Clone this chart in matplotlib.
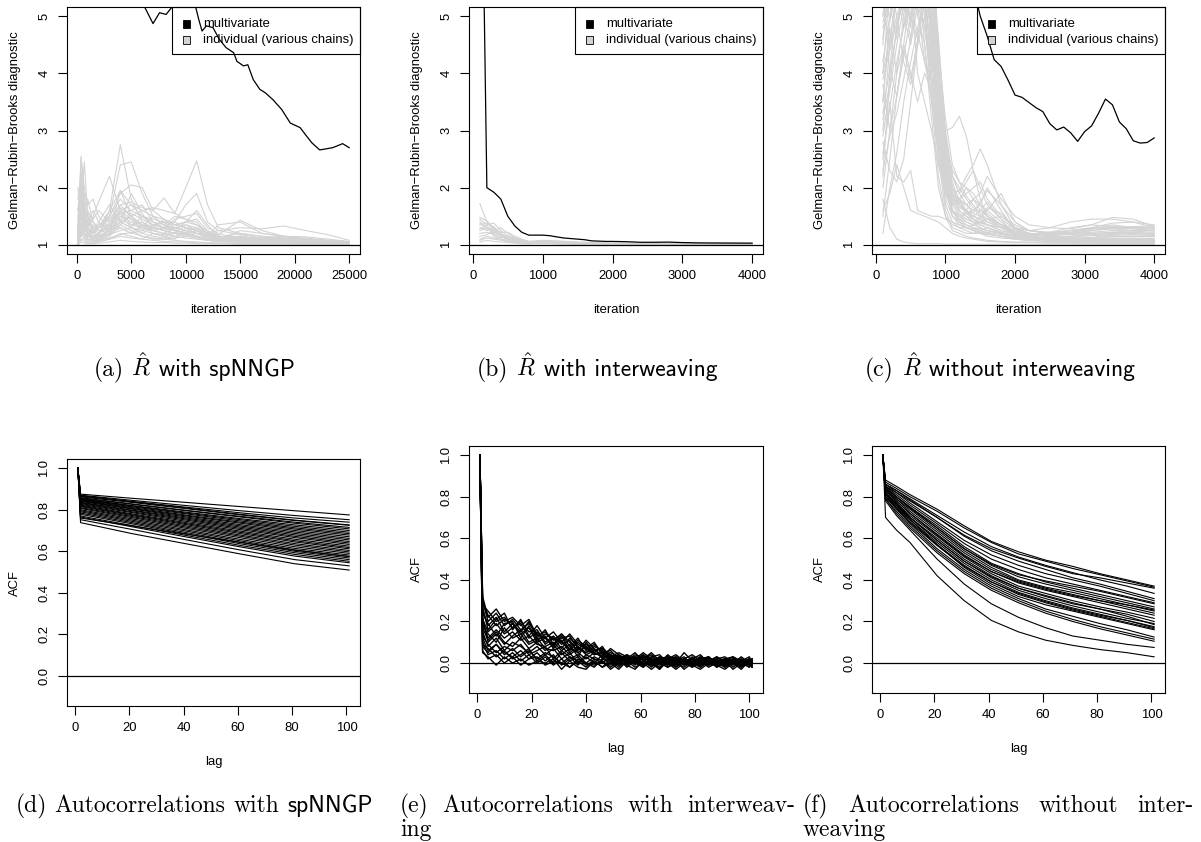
import matplotlib
matplotlib.use("Agg")
import matplotlib.pyplot as plt
from matplotlib.patches import Rectangle

plt.rcParams['font.family'] = ['Liberation Sans', 'DejaVu Sans']
plt.rcParams['mathtext.fontset'] = 'cm'

W, H = 1201, 842
GRAY = '#D3D3D3'
FS = 9.4

# ---------------- (a) R-hat with spNNGP ----------------
iter_a = [100, 400, 700, 1000, 1500, 2000, 3000, 4000, 5000, 6000, 7000, 8000,
          9000, 10000, 11000, 12000, 13000, 15000, 17000, 19000, 21000, 23000, 25000]
rhat_a = [
    [1.30, 1.90, 1.50, 1.20, 1.10, 1.15, 1.60, 2.75, 1.80, 1.40, 1.25, 1.20, 1.15, 1.12, 1.10, 1.08, 1.06, 1.05, 1.04, 1.03, 1.03, 1.02, 1.02],
    [1.10, 1.40, 1.30, 1.20, 1.15, 1.20, 1.50, 2.40, 2.45, 1.90, 1.50, 1.35, 1.30, 1.25, 1.20, 1.15, 1.12, 1.10, 1.08, 1.06, 1.05, 1.04, 1.03],
    [1.20, 1.60, 1.40, 1.30, 1.50, 1.75, 2.20, 1.60, 1.45, 1.35, 1.30, 1.25, 1.20, 1.18, 1.15, 1.12, 1.10, 1.08, 1.07, 1.06, 1.05, 1.04, 1.03],
    [1.05, 1.30, 1.20, 1.10, 1.10, 1.15, 1.25, 1.40, 1.50, 1.60, 1.65, 1.60, 1.55, 2.00, 2.47, 1.70, 1.30, 1.20, 1.15, 1.12, 1.10, 1.06, 1.04],
    [1.10, 1.50, 1.30, 1.20, 1.15, 1.20, 1.30, 1.55, 1.60, 1.50, 1.45, 1.40, 1.40, 1.70, 1.90, 1.40, 1.25, 1.18, 1.12, 1.10, 1.08, 1.05, 1.03],
    [1.20, 1.80, 1.40, 1.25, 1.20, 1.30, 1.45, 1.70, 1.75, 1.65, 1.60, 1.82, 1.55, 1.45, 1.35, 1.20, 1.15, 1.12, 1.10, 1.08, 1.06, 1.05, 1.04],
    [1.15, 2.30, 1.60, 1.40, 1.30, 1.35, 1.50, 1.90, 2.05, 2.00, 1.60, 1.45, 1.35, 1.30, 1.28, 1.22, 1.18, 1.43, 1.25, 1.15, 1.10, 1.06, 1.04],
    [1.05, 2.55, 1.80, 1.30, 1.20, 1.15, 1.25, 1.50, 1.40, 1.30, 1.25, 1.20, 1.30, 1.35, 1.30, 1.20, 1.25, 1.30, 1.28, 1.33, 1.25, 1.18, 1.08],
    [1.40, 2.50, 2.00, 1.60, 1.40, 1.30, 1.35, 1.45, 1.35, 1.30, 1.25, 1.30, 1.30, 1.25, 1.20, 1.15, 1.35, 1.40, 1.20, 1.15, 1.12, 1.08, 1.05],
    [1.00, 1.20, 1.10, 1.05, 1.05, 1.08, 1.15, 1.35, 1.25, 1.15, 1.10, 1.10, 1.08, 1.06, 1.05, 1.04, 1.03, 1.03, 1.02, 1.02, 1.02, 1.01, 1.01],
    [1.60, 2.00, 1.70, 1.80, 1.40, 1.25, 1.30, 1.60, 1.70, 1.50, 1.40, 1.30, 1.25, 1.20, 1.15, 1.10, 1.08, 1.07, 1.06, 1.05, 1.04, 1.03, 1.02],
    [1.02, 1.10, 1.06, 1.04, 1.03, 1.05, 1.10, 1.20, 1.15, 1.10, 1.20, 1.15, 1.10, 1.30, 1.25, 1.15, 1.10, 1.08, 1.06, 1.05, 1.04, 1.03, 1.02],
    [1.10, 1.70, 1.30, 1.15, 1.10, 1.12, 1.20, 1.30, 1.20, 1.25, 1.35, 1.30, 1.45, 1.50, 1.55, 1.30, 1.20, 1.10, 1.08, 1.06, 1.05, 1.04, 1.03],
    [1.05, 1.40, 1.20, 1.10, 1.08, 1.06, 1.10, 1.15, 1.12, 1.10, 1.08, 1.06, 1.05, 1.05, 1.04, 1.03, 1.03, 1.02, 1.02, 1.02, 1.01, 1.01, 1.01],
    [1.20, 1.95, 1.50, 1.30, 1.15, 1.10, 1.20, 1.95, 1.50, 1.35, 1.30, 1.28, 1.25, 1.22, 1.20, 1.18, 1.15, 1.13, 1.12, 1.10, 1.08, 1.06, 1.05],
    [1.00, 1.05, 1.03, 1.02, 1.02, 1.03, 1.05, 1.08, 1.06, 1.05, 1.04, 1.04, 1.03, 1.03, 1.02, 1.02, 1.02, 1.01, 1.01, 1.01, 1.01, 1.01, 1.00],
    [1.50, 1.60, 1.75, 1.40, 1.60, 1.40, 1.25, 1.35, 1.55, 1.45, 1.35, 1.40, 1.35, 1.40, 1.35, 1.25, 1.15, 1.12, 1.10, 1.08, 1.07, 1.05, 1.03],
    [1.03, 1.25, 1.15, 1.10, 1.08, 1.10, 1.18, 1.25, 1.30, 1.20, 1.15, 1.12, 1.15, 1.20, 1.15, 1.10, 1.08, 1.10, 1.12, 1.15, 1.14, 1.10, 1.06],
    [1.80, 2.20, 1.60, 1.50, 1.30, 1.20, 1.40, 1.70, 1.50, 1.35, 1.25, 1.30, 1.25, 1.20, 1.15, 1.10, 1.08, 1.06, 1.05, 1.04, 1.03, 1.03, 1.02],
    [1.25, 1.70, 2.45, 1.50, 1.25, 1.30, 1.50, 1.80, 1.60, 1.70, 1.40, 1.35, 1.50, 1.45, 1.40, 1.20, 1.12, 1.10, 1.08, 1.07, 1.05, 1.04, 1.03],
    [2.00, 1.50, 1.90, 1.70, 1.80, 1.50, 1.30, 1.40, 1.30, 1.20, 1.30, 1.25, 1.20, 1.35, 1.25, 1.12, 1.10, 1.08, 1.06, 1.05, 1.04, 1.03, 1.03],
    [1.10, 1.35, 1.25, 1.40, 1.20, 1.30, 1.60, 1.95, 1.70, 1.60, 1.50, 1.45, 1.35, 1.40, 1.45, 1.25, 1.15, 1.10, 1.08, 1.06, 1.05, 1.04, 1.03],
    [1.35, 1.55, 1.20, 1.15, 1.35, 1.25, 1.20, 1.50, 1.45, 1.25, 1.20, 1.15, 1.20, 1.15, 1.20, 1.12, 1.08, 1.15, 1.10, 1.08, 1.05, 1.04, 1.02],
    [1.05, 1.15, 1.30, 1.20, 1.15, 1.10, 1.30, 1.60, 1.35, 1.40, 1.30, 1.45, 1.30, 1.25, 1.30, 1.18, 1.12, 1.20, 1.15, 1.12, 1.10, 1.08, 1.05],
    [1.60, 2.10, 1.40, 1.30, 1.20, 1.40, 1.70, 1.40, 1.90, 1.55, 1.30, 1.25, 1.20, 1.18, 1.12, 1.08, 1.06, 1.05, 1.04, 1.03, 1.03, 1.02, 1.02],
    [1.15, 1.45, 1.70, 1.25, 1.10, 1.20, 1.35, 1.65, 1.50, 1.30, 1.50, 1.35, 1.25, 1.40, 1.60, 1.35, 1.15, 1.12, 1.10, 1.08, 1.06, 1.05, 1.04],
    [1.02, 1.08, 1.12, 1.08, 1.06, 1.08, 1.12, 1.18, 1.22, 1.15, 1.12, 1.10, 1.12, 1.15, 1.12, 1.08, 1.06, 1.05, 1.05, 1.04, 1.03, 1.03, 1.02],
    [1.45, 1.80, 1.30, 1.60, 1.25, 1.15, 1.20, 1.40, 1.30, 1.25, 1.35, 1.40, 1.25, 1.20, 1.25, 1.15, 1.10, 1.25, 1.20, 1.15, 1.10, 1.07, 1.05],
    [1.20, 1.30, 1.50, 1.35, 1.45, 1.60, 1.40, 1.55, 1.30, 1.50, 1.35, 1.30, 1.40, 1.30, 1.20, 1.15, 1.10, 1.08, 1.07, 1.06, 1.05, 1.04, 1.03],
    [1.08, 1.20, 1.35, 1.15, 1.12, 1.15, 1.25, 1.30, 1.20, 1.35, 1.20, 1.18, 1.22, 1.18, 1.25, 1.20, 1.12, 1.15, 1.10, 1.10, 1.08, 1.06, 1.04],
]
mv_a_iter = [100, 2000, 4000, 6200, 7000, 7600, 8200, 8700, 9500, 10300, 10900, 11200,
             11500, 11900, 12500, 13100, 13700, 14400, 14700, 15300, 15700, 16200, 16800,
             17300, 18000, 18800, 19600, 20500, 21100, 21600, 22300, 23500, 24400, 25000]
mv_a = [14.0, 8.5, 6.2, 5.17, 4.87, 5.06, 5.03, 5.15, 5.40, 5.30, 5.17, 4.94,
        4.74, 4.83, 4.80, 4.59, 4.45, 4.36, 4.21, 4.13, 4.15, 3.89, 3.72,
        3.66, 3.54, 3.37, 3.13, 3.05, 2.90, 2.78, 2.66, 2.70, 2.77, 2.70]

# ---------------- (b) R-hat with interweaving ----------------
iter_b = [100, 200, 300, 400, 500, 600, 700, 800, 1000, 1200, 1500, 2000, 2500, 3000, 3500, 4000]
rhat_b = [
    [1.72, 1.40, 1.25, 1.15, 1.08, 1.05, 1.04, 1.03, 1.04, 1.03, 1.02, 1.02, 1.01, 1.01, 1.01, 1.01],
    [1.48, 1.42, 1.30, 1.20, 1.12, 1.08, 1.06, 1.04, 1.06, 1.05, 1.03, 1.02, 1.02, 1.02, 1.01, 1.01],
    [1.45, 1.35, 1.38, 1.25, 1.15, 1.10, 1.07, 1.05, 1.07, 1.06, 1.04, 1.03, 1.02, 1.02, 1.02, 1.02],
    [1.40, 1.30, 1.25, 1.30, 1.20, 1.12, 1.08, 1.05, 1.05, 1.04, 1.03, 1.02, 1.02, 1.01, 1.01, 1.01],
    [1.35, 1.38, 1.28, 1.22, 1.22, 1.15, 1.10, 1.06, 1.06, 1.05, 1.03, 1.02, 1.02, 1.02, 1.01, 1.01],
    [1.30, 1.25, 1.32, 1.18, 1.10, 1.06, 1.04, 1.03, 1.03, 1.03, 1.02, 1.01, 1.01, 1.01, 1.01, 1.01],
    [1.25, 1.30, 1.20, 1.15, 1.12, 1.08, 1.05, 1.03, 1.04, 1.03, 1.02, 1.02, 1.01, 1.01, 1.01, 1.01],
    [1.20, 1.22, 1.18, 1.12, 1.16, 1.10, 1.06, 1.04, 1.05, 1.04, 1.03, 1.02, 1.02, 1.01, 1.01, 1.01],
    [1.15, 1.18, 1.25, 1.20, 1.10, 1.07, 1.05, 1.03, 1.03, 1.02, 1.02, 1.01, 1.01, 1.01, 1.01, 1.00],
    [1.10, 1.15, 1.12, 1.10, 1.08, 1.10, 1.08, 1.04, 1.05, 1.04, 1.03, 1.02, 1.02, 1.02, 1.01, 1.01],
    [1.08, 1.12, 1.10, 1.08, 1.05, 1.04, 1.03, 1.02, 1.03, 1.02, 1.02, 1.01, 1.01, 1.01, 1.01, 1.01],
    [1.05, 1.08, 1.06, 1.05, 1.04, 1.03, 1.02, 1.02, 1.02, 1.02, 1.01, 1.01, 1.01, 1.01, 1.01, 1.00],
    [1.38, 1.28, 1.22, 1.18, 1.14, 1.12, 1.09, 1.06, 1.08, 1.07, 1.05, 1.03, 1.03, 1.02, 1.02, 1.02],
    [1.28, 1.35, 1.15, 1.10, 1.06, 1.04, 1.03, 1.02, 1.04, 1.03, 1.02, 1.02, 1.01, 1.01, 1.01, 1.01],
]
mv_b_iter = [100, 200, 300, 400, 500, 600, 700, 800, 900, 1000, 1100, 1200, 1300, 1400, 1500,
             1600, 1700, 1800, 1900, 2000, 2200, 2400, 2600, 2800, 3000, 3200, 3400, 3600, 3800, 4000]
mv_b = [10.3, 2.00, 1.92, 1.80, 1.50, 1.33, 1.22, 1.17, 1.17, 1.17, 1.16, 1.14, 1.12, 1.11, 1.10,
        1.09, 1.07, 1.065, 1.06, 1.06, 1.055, 1.045, 1.045, 1.048, 1.04, 1.035, 1.033, 1.032, 1.031, 1.03]

# ---------------- (c) R-hat without interweaving ----------------
iter_c = [100, 200, 300, 400, 500, 600, 700, 800, 900, 1000, 1100, 1200, 1300, 1400, 1500,
          1600, 1800, 2000, 2200, 2500, 2800, 3100, 3400, 3700, 4000]
rhat_c = [
    [5.5, 6.5, 6.0, 6.8, 6.2, 5.8, 6.5, 4.5, 2.8, 1.9, 1.6, 1.45, 1.35, 1.30, 1.25, 1.22, 1.18, 1.15, 1.14, 1.12, 1.12, 1.10, 1.10, 1.09, 1.08],
    [4.5, 5.8, 6.2, 5.5, 6.0, 6.5, 5.5, 4.0, 3.0, 2.2, 1.8, 1.6, 1.5, 1.45, 1.40, 1.35, 1.25, 1.20, 1.18, 1.15, 1.14, 1.13, 1.12, 1.12, 1.11],
    [3.0, 4.5, 5.5, 5.0, 4.5, 5.2, 4.8, 3.8, 2.6, 1.8, 1.5, 1.4, 1.30, 1.28, 1.25, 1.20, 1.15, 1.12, 1.10, 1.10, 1.09, 1.08, 1.08, 1.07, 1.06],
    [1.2, 2.0, 2.6, 3.5, 4.2, 4.8, 5.3, 4.8, 3.5, 2.5, 1.8, 1.7, 1.6, 1.5, 1.45, 1.35, 1.25, 1.18, 1.16, 1.20, 1.25, 1.28, 1.30, 1.32, 1.33],
    [2.5, 3.5, 2.2, 2.1, 2.3, 1.6, 1.55, 1.5, 1.5, 1.45, 1.4, 1.35, 1.30, 1.25, 1.22, 1.2, 1.15, 1.12, 1.10, 1.08, 1.07, 1.06, 1.06, 1.05, 1.05],
    [1.8, 1.3, 1.1, 1.05, 1.03, 1.02, 1.02, 1.02, 1.02, 1.01, 1.01, 1.01, 1.01, 1.01, 1.01, 1.01, 1.01, 1.01, 1.01, 1.01, 1.01, 1.01, 1.01, 1.01, 1.01],
    [6.0, 5.5, 6.8, 7.0, 6.5, 5.9, 5.4, 4.2, 3.5, 3.0, 3.05, 3.25, 2.9, 2.3, 1.8, 1.5, 1.35, 1.25, 1.20, 1.18, 1.20, 1.22, 1.25, 1.24, 1.22],
    [5.0, 6.0, 5.5, 6.2, 7.0, 6.0, 5.0, 3.5, 2.5, 2.0, 1.9, 1.95, 2.2, 2.4, 2.68, 2.4, 1.7, 1.3, 1.25, 1.30, 1.40, 1.45, 1.45, 1.40, 1.35],
    [4.0, 5.5, 6.5, 6.0, 5.0, 5.5, 5.8, 4.8, 3.2, 2.1, 1.7, 1.8, 1.9, 2.0, 2.1, 1.8, 1.5, 1.3, 1.2, 1.15, 1.20, 1.25, 1.28, 1.30, 1.30],
    [2.0, 3.0, 4.0, 5.0, 5.8, 6.0, 5.2, 3.8, 2.8, 2.3, 1.85, 1.7, 1.55, 1.5, 1.6, 1.75, 1.45, 1.15, 1.12, 1.10, 1.10, 1.12, 1.15, 1.15, 1.14],
    [3.5, 4.8, 4.0, 4.5, 5.5, 6.5, 6.0, 5.0, 3.0, 1.7, 1.4, 1.3, 1.25, 1.2, 1.2, 1.15, 1.12, 1.10, 1.08, 1.07, 1.06, 1.05, 1.05, 1.04, 1.04],
    [5.2, 4.5, 5.0, 4.2, 3.8, 4.5, 5.0, 4.0, 2.5, 1.6, 1.3, 1.25, 1.2, 1.2, 1.25, 1.3, 1.2, 1.1, 1.08, 1.06, 1.05, 1.05, 1.04, 1.04, 1.03],
    [2.8, 2.3, 2.1, 2.5, 3.5, 4.5, 5.5, 6.5, 4.5, 2.8, 2.0, 1.8, 1.6, 1.5, 1.45, 1.6, 1.9, 1.4, 1.25, 1.20, 1.25, 1.30, 1.38, 1.40, 1.30],
    [4.8, 5.2, 4.6, 5.8, 6.0, 5.0, 4.5, 3.5, 2.2, 1.5, 1.25, 1.2, 1.15, 1.12, 1.1, 1.08, 1.06, 1.05, 1.05, 1.04, 1.04, 1.03, 1.03, 1.03, 1.02],
    [3.8, 3.0, 3.6, 4.5, 4.0, 3.5, 4.0, 3.7, 3.0, 2.2, 1.5, 1.4, 1.6, 1.8, 1.7, 2.0, 1.6, 1.25, 1.2, 1.15, 1.12, 1.10, 1.10, 1.10, 1.10],
    [6.5, 7.0, 6.0, 6.5, 7.5, 7.0, 6.5, 5.0, 3.8, 2.6, 1.9, 1.75, 1.7, 1.8, 1.9, 2.2, 1.8, 1.5, 1.35, 1.30, 1.28, 1.35, 1.48, 1.45, 1.32],
    [2.2, 4.0, 5.5, 6.5, 5.5, 4.0, 3.5, 3.0, 2.4, 1.9, 1.6, 1.5, 1.4, 1.35, 1.3, 1.25, 1.2, 1.15, 1.15, 1.18, 1.20, 1.18, 1.16, 1.15, 1.15],
    [5.8, 6.2, 7.0, 5.5, 4.8, 6.0, 4.5, 3.2, 2.0, 1.5, 1.35, 1.3, 1.3, 1.35, 1.4, 1.35, 1.3, 1.2, 1.18, 1.22, 1.30, 1.35, 1.32, 1.28, 1.25],
    [1.6, 1.9, 2.4, 2.0, 1.6, 1.55, 1.5, 1.45, 1.4, 1.3, 1.2, 1.15, 1.12, 1.1, 1.08, 1.06, 1.05, 1.04, 1.04, 1.03, 1.03, 1.03, 1.02, 1.02, 1.02],
    [4.2, 5.0, 5.8, 6.2, 5.5, 5.0, 6.2, 5.5, 4.0, 2.9, 2.2, 1.9, 1.7, 1.55, 1.5, 1.45, 1.35, 1.3, 1.25, 1.22, 1.25, 1.30, 1.28, 1.25, 1.25],
    [3.2, 3.8, 4.8, 5.6, 6.0, 5.2, 4.2, 3.9, 3.6, 2.8, 2.3, 2.1, 2.0, 1.8, 1.6, 1.55, 1.35, 1.2, 1.15, 1.12, 1.10, 1.08, 1.08, 1.07, 1.06],
    [5.5, 4.0, 4.8, 5.3, 4.6, 5.6, 6.5, 5.8, 3.5, 2.0, 1.6, 1.4, 1.35, 1.3, 1.28, 1.25, 1.2, 1.15, 1.12, 1.10, 1.10, 1.12, 1.20, 1.22, 1.20],
    [6.0, 5.2, 5.8, 6.5, 6.0, 6.8, 7.0, 6.0, 4.2, 2.6, 1.9, 1.6, 1.5, 1.4, 1.35, 1.3, 1.22, 1.15, 1.12, 1.10, 1.10, 1.12, 1.15, 1.15, 1.16],
    [4.0, 4.6, 5.4, 4.8, 5.6, 5.2, 5.8, 5.2, 3.8, 2.4, 1.7, 1.5, 1.55, 1.6, 1.7, 1.6, 1.4, 1.2, 1.15, 1.12, 1.15, 1.20, 1.22, 1.20, 1.18],
    [3.5, 5.0, 5.8, 6.6, 7.0, 6.4, 6.0, 4.6, 3.0, 2.0, 1.7, 1.8, 2.0, 1.9, 1.7, 1.5, 1.3, 1.18, 1.12, 1.10, 1.08, 1.07, 1.06, 1.05, 1.05],
    [5.0, 5.6, 5.0, 5.4, 4.9, 5.5, 5.9, 4.4, 2.9, 2.1, 1.6, 1.45, 1.4, 1.35, 1.5, 1.65, 1.55, 1.3, 1.2, 1.18, 1.22, 1.28, 1.32, 1.30, 1.28],
    [2.6, 3.4, 4.2, 4.8, 5.4, 5.8, 6.5, 5.8, 4.6, 3.0, 2.2, 2.0, 1.8, 1.65, 1.5, 1.4, 1.3, 1.22, 1.18, 1.15, 1.12, 1.10, 1.08, 1.08, 1.07],
    [6.5, 6.0, 6.5, 7.2, 6.6, 6.2, 6.0, 5.2, 3.4, 2.2, 1.6, 1.4, 1.3, 1.25, 1.2, 1.18, 1.15, 1.12, 1.1, 1.08, 1.08, 1.07, 1.06, 1.06, 1.05],
    [3.9, 4.4, 4.9, 5.3, 5.0, 4.6, 5.6, 4.9, 3.6, 2.6, 2.0, 1.7, 1.55, 1.45, 1.4, 1.45, 1.5, 1.35, 1.25, 1.2, 1.18, 1.2, 1.22, 1.25, 1.26],
    [5.4, 6.4, 7.0, 6.0, 5.2, 4.7, 4.2, 3.6, 2.7, 2.0, 1.6, 1.5, 1.45, 1.4, 1.3, 1.25, 1.2, 1.15, 1.12, 1.1, 1.1, 1.1, 1.1, 1.1, 1.1],
    [2.3, 2.9, 3.3, 3.9, 4.6, 5.4, 5.9, 4.9, 3.3, 2.3, 1.8, 1.65, 1.6, 1.55, 1.75, 1.95, 1.7, 1.4, 1.25, 1.2, 1.22, 1.28, 1.35, 1.30, 1.28],
    [4.6, 5.8, 6.2, 5.6, 6.4, 7.0, 6.2, 5.5, 4.4, 3.2, 2.4, 2.1, 1.85, 1.7, 1.55, 1.45, 1.3, 1.2, 1.15, 1.12, 1.1, 1.1, 1.08, 1.07, 1.07],
    [1.5, 2.5, 3.6, 4.4, 3.9, 4.6, 5.2, 4.4, 3.0, 2.0, 1.5, 1.35, 1.3, 1.25, 1.22, 1.2, 1.15, 1.1, 1.08, 1.06, 1.06, 1.05, 1.05, 1.05, 1.04],
    [5.8, 4.9, 5.5, 6.0, 5.4, 6.0, 5.4, 4.3, 3.1, 2.4, 2.0, 1.8, 1.7, 1.6, 1.6, 1.5, 1.35, 1.25, 1.2, 1.18, 1.2, 1.25, 1.3, 1.28, 1.24],
    [3.3, 4.1, 3.6, 4.3, 5.0, 5.7, 6.3, 5.0, 3.9, 2.8, 2.2, 1.9, 2.1, 2.3, 2.0, 1.7, 1.45, 1.28, 1.2, 1.15, 1.12, 1.1, 1.1, 1.1, 1.08],
    [4.9, 5.3, 6.0, 5.1, 5.7, 6.3, 5.7, 4.7, 3.3, 2.3, 1.75, 1.55, 1.45, 1.4, 1.38, 1.35, 1.3, 1.22, 1.18, 1.15, 1.14, 1.16, 1.18, 1.2, 1.2],
    [2.9, 3.7, 4.5, 5.2, 6.0, 5.4, 4.8, 4.2, 3.4, 2.6, 2.1, 1.75, 1.6, 1.45, 1.35, 1.3, 1.22, 1.16, 1.12, 1.1, 1.08, 1.06, 1.06, 1.05, 1.05],
    [6.2, 6.8, 5.9, 5.4, 6.0, 5.5, 6.4, 5.8, 4.1, 2.7, 1.9, 1.7, 1.6, 1.5, 1.45, 1.4, 1.32, 1.25, 1.2, 1.16, 1.15, 1.18, 1.2, 1.18, 1.16],
]
mv_c_iter = list(range(100, 4001, 100))
mv_c = [20, 18, 16, 15, 14, 13, 12, 11, 10, 9, 8, 7, 6.2, 5.5,
        5.0, 4.65, 4.24, 4.12, 3.88, 3.62, 3.58, 3.49, 3.40, 3.33, 3.12, 3.01, 3.06, 2.96,
        2.81, 2.98, 3.08, 3.30, 3.55, 3.45, 3.15, 3.03, 2.82, 2.78, 2.79, 2.87]

# ---------------- (d) ACF with spNNGP ----------------
lag_d = [1, 2, 21, 41, 61, 81, 101]
acf_d = [
    [1, 0.875, 0.855, 0.835, 0.815, 0.795, 0.775],
    [1, 0.870, 0.845, 0.820, 0.795, 0.772, 0.752],
    [1, 0.868, 0.838, 0.808, 0.778, 0.750, 0.727],
    [1, 0.865, 0.840, 0.812, 0.785, 0.760, 0.740],
    [1, 0.862, 0.835, 0.805, 0.775, 0.748, 0.725],
    [1, 0.858, 0.828, 0.797, 0.768, 0.740, 0.715],
    [1, 0.855, 0.826, 0.795, 0.765, 0.735, 0.708],
    [1, 0.852, 0.820, 0.788, 0.757, 0.727, 0.700],
    [1, 0.850, 0.818, 0.784, 0.752, 0.720, 0.692],
    [1, 0.848, 0.814, 0.780, 0.746, 0.713, 0.685],
    [1, 0.845, 0.810, 0.774, 0.740, 0.707, 0.678],
    [1, 0.843, 0.806, 0.770, 0.735, 0.700, 0.670],
    [1, 0.840, 0.803, 0.765, 0.728, 0.693, 0.662],
    [1, 0.836, 0.798, 0.760, 0.722, 0.686, 0.655],
    [1, 0.833, 0.795, 0.755, 0.716, 0.679, 0.647],
    [1, 0.830, 0.790, 0.750, 0.710, 0.672, 0.640],
    [1, 0.826, 0.786, 0.744, 0.704, 0.666, 0.633],
    [1, 0.822, 0.780, 0.738, 0.697, 0.658, 0.625],
    [1, 0.818, 0.776, 0.733, 0.691, 0.651, 0.618],
    [1, 0.815, 0.772, 0.728, 0.685, 0.645, 0.612],
    [1, 0.810, 0.767, 0.722, 0.678, 0.637, 0.604],
    [1, 0.806, 0.762, 0.716, 0.672, 0.630, 0.597],
    [1, 0.800, 0.756, 0.710, 0.665, 0.622, 0.590],
    [1, 0.795, 0.750, 0.703, 0.657, 0.614, 0.582],
    [1, 0.790, 0.744, 0.697, 0.650, 0.607, 0.575],
    [1, 0.784, 0.738, 0.690, 0.643, 0.600, 0.568],
    [1, 0.778, 0.732, 0.684, 0.636, 0.593, 0.560],
    [1, 0.770, 0.724, 0.676, 0.628, 0.585, 0.552],
    [1, 0.765, 0.718, 0.669, 0.621, 0.577, 0.545],
    [1, 0.760, 0.722, 0.682, 0.643, 0.605, 0.575],
    [1, 0.752, 0.705, 0.655, 0.606, 0.560, 0.530],
    [1, 0.738, 0.685, 0.636, 0.587, 0.540, 0.510],
]

# ---------------- (e) ACF with interweaving ----------------
lag_e = [1, 2, 4, 7, 10, 13, 16, 19, 22, 25, 28, 31, 34, 37, 40, 43, 46, 49, 52, 55,
         58, 61, 64, 67, 70, 73, 76, 79, 82, 85, 88, 91, 94, 97, 100, 101]
acf_e = [
    [1, 0.32, 0.22, 0.26, 0.20, 0.22, 0.18, 0.21, 0.13, 0.15, 0.11, 0.14, 0.08, 0.12, 0.06, 0.09, 0.05, 0.06, 0.02, 0.04, 0.01, 0.03, 0.00, 0.02, -0.01, 0.02, 0.00, 0.03, 0.00, 0.02, -0.01, 0.01, 0.00, 0.02, -0.01, 0.01],
    [1, 0.28, 0.25, 0.20, 0.22, 0.17, 0.20, 0.15, 0.16, 0.10, 0.13, 0.09, 0.11, 0.05, 0.08, 0.04, 0.06, 0.01, 0.03, 0.00, 0.02, -0.01, 0.03, 0.01, 0.02, -0.01, 0.01, 0.02, -0.02, 0.01, 0.02, -0.01, 0.01, 0.00, 0.02, 0.00],
    [1, 0.25, 0.18, 0.22, 0.15, 0.19, 0.14, 0.17, 0.10, 0.12, 0.08, 0.13, 0.06, 0.10, 0.07, 0.04, 0.05, 0.02, 0.04, -0.01, 0.01, 0.02, -0.01, 0.03, 0.00, 0.01, 0.03, -0.01, 0.01, 0.02, 0.00, 0.02, -0.02, 0.01, 0.00, -0.01],
    [1, 0.20, 0.12, 0.16, 0.12, 0.15, 0.11, 0.13, 0.09, 0.08, 0.10, 0.06, 0.09, 0.03, 0.10, 0.05, 0.03, 0.04, 0.00, 0.02, 0.03, 0.00, 0.01, -0.02, 0.01, 0.02, 0.00, -0.01, 0.02, -0.01, 0.01, 0.00, 0.02, -0.02, 0.01, 0.00],
    [1, 0.15, 0.08, 0.12, 0.06, 0.10, 0.08, 0.05, 0.08, 0.04, 0.07, 0.02, 0.05, 0.00, 0.04, 0.02, 0.00, 0.03, -0.01, 0.02, 0.00, 0.01, -0.02, 0.02, 0.00, -0.02, 0.01, 0.00, -0.01, 0.02, -0.02, 0.01, 0.00, -0.01, 0.01, -0.02],
    [1, 0.10, 0.04, 0.06, 0.02, 0.05, 0.01, 0.04, 0.00, 0.03, -0.01, 0.02, -0.02, 0.01, -0.02, 0.02, 0.00, -0.01, 0.02, -0.02, 0.01, -0.01, 0.00, -0.03, 0.01, -0.01, 0.00, -0.02, 0.01, -0.01, 0.00, -0.02, 0.01, -0.01, 0.00, -0.02],
    [1, 0.05, 0.03, -0.01, 0.03, 0.00, 0.02, -0.01, 0.01, 0.00, 0.02, -0.03, 0.01, -0.02, -0.03, 0.01, -0.02, 0.00, -0.03, 0.01, -0.02, 0.00, -0.03, 0.00, -0.02, 0.01, -0.03, 0.00, -0.02, 0.01, -0.01, -0.03, 0.00, -0.02, 0.01, -0.01],
    [1, 0.30, 0.20, 0.24, 0.18, 0.21, 0.16, 0.19, 0.14, 0.12, 0.15, 0.10, 0.14, 0.09, 0.07, 0.10, 0.04, 0.05, 0.03, 0.01, 0.04, 0.02, 0.05, 0.01, 0.03, 0.00, 0.02, 0.04, 0.01, 0.03, 0.00, 0.02, 0.03, 0.00, 0.02, 0.01],
    [1, 0.22, 0.10, 0.14, 0.09, 0.13, 0.16, 0.10, 0.12, 0.07, 0.06, 0.08, 0.04, 0.07, 0.05, 0.07, 0.02, 0.04, 0.02, 0.03, 0.00, 0.04, 0.01, 0.02, 0.03, 0.00, 0.05, 0.01, 0.02, 0.00, 0.03, 0.01, 0.02, 0.00, 0.01, 0.02],
    [1, 0.08, 0.05, 0.09, 0.04, 0.07, 0.03, 0.06, 0.02, 0.05, 0.03, 0.00, 0.03, 0.01, 0.00, 0.03, 0.01, -0.02, 0.01, 0.02, -0.01, 0.03, 0.01, 0.00, 0.02, 0.01, -0.01, 0.02, 0.00, -0.01, 0.01, 0.02, -0.01, 0.01, -0.01, 0.02],
    [1, 0.18, 0.14, 0.10, 0.17, 0.12, 0.14, 0.09, 0.11, 0.13, 0.07, 0.11, 0.05, 0.08, 0.04, 0.06, 0.07, 0.03, 0.01, 0.03, 0.02, 0.05, 0.02, 0.00, 0.04, 0.01, 0.02, 0.00, 0.02, 0.03, 0.00, 0.01, 0.03, 0.01, 0.00, 0.01],
    [1, 0.12, 0.06, 0.09, 0.05, 0.03, 0.06, 0.02, 0.05, 0.01, 0.04, -0.01, 0.02, 0.04, 0.00, -0.02, 0.02, 0.00, 0.01, -0.01, 0.02, 0.00, -0.01, 0.01, -0.02, 0.00, 0.02, -0.01, 0.00, 0.01, -0.02, 0.00, 0.01, -0.01, 0.02, -0.01],
    [1, 0.27, 0.16, 0.21, 0.24, 0.16, 0.21, 0.13, 0.18, 0.12, 0.09, 0.14, 0.10, 0.06, 0.11, 0.07, 0.03, 0.07, 0.04, 0.02, 0.05, 0.01, 0.03, 0.04, 0.00, 0.03, 0.01, 0.02, 0.04, 0.00, 0.02, 0.03, 0.00, 0.02, 0.01, 0.02],
    [1, 0.24, 0.19, 0.13, 0.19, 0.20, 0.12, 0.18, 0.11, 0.14, 0.12, 0.07, 0.12, 0.08, 0.05, 0.08, 0.06, 0.03, 0.05, 0.03, 0.00, 0.03, 0.02, 0.00, 0.03, 0.02, -0.01, 0.01, 0.03, 0.00, 0.01, 0.02, 0.00, 0.03, 0.00, 0.01],
    [1, 0.17, 0.11, 0.15, 0.10, 0.08, 0.12, 0.07, 0.10, 0.06, 0.09, 0.04, 0.07, 0.05, 0.02, 0.05, 0.03, 0.00, 0.03, 0.01, 0.03, -0.01, 0.02, 0.01, -0.01, 0.02, 0.00, 0.01, -0.01, 0.02, 0.01, -0.01, 0.02, 0.00, 0.01, 0.00],
    [1, 0.06, 0.02, 0.04, 0.00, 0.03, -0.01, 0.02, 0.03, -0.01, 0.01, 0.00, -0.02, 0.02, 0.00, -0.01, 0.01, -0.03, 0.00, -0.01, -0.03, 0.01, -0.01, -0.02, 0.00, -0.03, 0.00, -0.01, -0.03, 0.00, -0.01, 0.01, -0.03, 0.00, -0.02, 0.00],
    [1, 0.29, 0.23, 0.18, 0.21, 0.19, 0.15, 0.20, 0.12, 0.16, 0.09, 0.12, 0.13, 0.07, 0.09, 0.06, 0.07, 0.04, 0.01, 0.04, 0.02, 0.04, 0.01, 0.03, 0.02, 0.04, 0.01, 0.00, 0.03, 0.01, 0.03, 0.00, 0.02, 0.01, 0.03, 0.00],
    [1, 0.13, 0.09, 0.05, 0.08, 0.06, 0.09, 0.04, 0.06, 0.08, 0.02, 0.06, 0.03, -0.01, 0.03, 0.00, 0.04, 0.01, -0.02, 0.01, 0.00, -0.02, 0.02, -0.01, 0.01, 0.00, -0.02, 0.01, -0.01, 0.00, 0.02, -0.02, 0.00, 0.01, -0.02, 0.01],
    [1, 0.21, 0.15, 0.19, 0.14, 0.17, 0.19, 0.12, 0.15, 0.09, 0.12, 0.10, 0.07, 0.11, 0.08, 0.05, 0.08, 0.02, 0.04, 0.01, 0.03, 0.02, 0.04, 0.00, 0.02, 0.03, 0.00, 0.02, 0.00, 0.03, -0.01, 0.02, 0.01, -0.01, 0.02, 0.00],
    [1, 0.09, 0.07, 0.03, 0.06, 0.02, 0.04, 0.07, 0.01, 0.04, 0.00, 0.05, 0.01, 0.03, -0.01, 0.01, -0.02, 0.02, -0.01, 0.00, 0.01, -0.02, 0.01, -0.03, 0.02, -0.02, 0.01, -0.02, 0.01, -0.02, 0.00, -0.01, 0.00, -0.03, 0.01, -0.02],
]

# ---------------- (f) ACF without interweaving ----------------
lag_f = [1, 2, 6, 11, 21, 31, 41, 51, 61, 71, 81, 91, 101]
acf_f = [
    [1, 0.88, 0.85, 0.81, 0.74, 0.66, 0.585, 0.535, 0.495, 0.465, 0.43, 0.40, 0.37],
    [1, 0.87, 0.84, 0.80, 0.73, 0.65, 0.58, 0.525, 0.49, 0.455, 0.425, 0.395, 0.365],
    [1, 0.86, 0.83, 0.785, 0.70, 0.615, 0.55, 0.505, 0.465, 0.43, 0.41, 0.385, 0.36],
    [1, 0.86, 0.83, 0.79, 0.71, 0.63, 0.56, 0.51, 0.47, 0.435, 0.40, 0.37, 0.335],
    [1, 0.85, 0.82, 0.78, 0.70, 0.61, 0.54, 0.49, 0.45, 0.41, 0.38, 0.345, 0.31],
    [1, 0.86, 0.82, 0.77, 0.68, 0.59, 0.52, 0.47, 0.43, 0.40, 0.37, 0.335, 0.30],
    [1, 0.85, 0.81, 0.76, 0.67, 0.575, 0.50, 0.45, 0.41, 0.38, 0.35, 0.32, 0.29],
    [1, 0.84, 0.80, 0.75, 0.65, 0.55, 0.475, 0.425, 0.395, 0.37, 0.345, 0.315, 0.285],
    [1, 0.84, 0.80, 0.75, 0.66, 0.56, 0.48, 0.43, 0.39, 0.36, 0.33, 0.30, 0.27],
    [1, 0.85, 0.80, 0.745, 0.65, 0.55, 0.47, 0.415, 0.38, 0.35, 0.32, 0.29, 0.26],
    [1, 0.83, 0.78, 0.72, 0.615, 0.515, 0.44, 0.39, 0.355, 0.325, 0.30, 0.28, 0.255],
    [1, 0.84, 0.79, 0.74, 0.64, 0.54, 0.46, 0.40, 0.365, 0.34, 0.31, 0.28, 0.25],
    [1, 0.83, 0.79, 0.73, 0.63, 0.53, 0.45, 0.395, 0.36, 0.33, 0.30, 0.27, 0.24],
    [1, 0.83, 0.78, 0.72, 0.62, 0.52, 0.44, 0.385, 0.35, 0.32, 0.29, 0.26, 0.23],
    [1, 0.82, 0.77, 0.71, 0.61, 0.51, 0.43, 0.37, 0.335, 0.30, 0.27, 0.245, 0.215],
    [1, 0.82, 0.77, 0.70, 0.60, 0.50, 0.42, 0.36, 0.32, 0.285, 0.26, 0.235, 0.20],
    [1, 0.81, 0.76, 0.70, 0.59, 0.49, 0.41, 0.35, 0.31, 0.275, 0.245, 0.215, 0.19],
    [1, 0.82, 0.765, 0.70, 0.59, 0.49, 0.415, 0.36, 0.325, 0.29, 0.26, 0.225, 0.185],
    [1, 0.81, 0.75, 0.69, 0.58, 0.48, 0.40, 0.34, 0.30, 0.265, 0.235, 0.205, 0.175],
    [1, 0.80, 0.745, 0.675, 0.565, 0.465, 0.39, 0.335, 0.295, 0.26, 0.23, 0.205, 0.17],
    [1, 0.80, 0.75, 0.68, 0.57, 0.47, 0.39, 0.33, 0.29, 0.255, 0.225, 0.195, 0.165],
    [1, 0.82, 0.76, 0.69, 0.57, 0.46, 0.38, 0.32, 0.28, 0.25, 0.22, 0.19, 0.16],
    [1, 0.80, 0.74, 0.67, 0.55, 0.45, 0.37, 0.31, 0.26, 0.225, 0.19, 0.16, 0.125],
    [1, 0.79, 0.73, 0.66, 0.54, 0.44, 0.36, 0.30, 0.25, 0.21, 0.175, 0.145, 0.115],
    [1, 0.79, 0.72, 0.65, 0.53, 0.43, 0.35, 0.29, 0.24, 0.20, 0.165, 0.135, 0.105],
    [1, 0.78, 0.71, 0.64, 0.50, 0.38, 0.285, 0.22, 0.17, 0.13, 0.11, 0.09, 0.075],
    [1, 0.70, 0.64, 0.58, 0.42, 0.30, 0.205, 0.15, 0.11, 0.085, 0.065, 0.05, 0.03],
]

rhat_ticks_a = [0, 5000, 10000, 15000, 20000, 25000]
rhat_ticks_bc = [0, 1000, 2000, 3000, 4000]
rhat_yticks = [1, 2, 3, 4, 5]
acf_xticks = [0, 20, 40, 60, 80, 100]
acf_yticks = [0.0, 0.2, 0.4, 0.6, 0.8, 1.0]

fig = plt.figure(figsize=(W / 100, H / 100), dpi=100)


def add_axes_px(left, right, top, bottom):
    return fig.add_axes([left / W, 1 - bottom / H, (right - left) / W, (bottom - top) / H])


def style_axes(ax, xticks, yticks, ylabels, xlabel, ylabel):
    for s in ax.spines.values():
        s.set_linewidth(0.8)
    ax.set_xticks(xticks, [str(t) for t in xticks])
    ax.set_yticks(yticks, ylabels, rotation=90, va='center')
    ax.tick_params(axis='both', direction='out', length=6.5, width=0.8,
                   labelsize=FS, colors='black')
    ax.tick_params(axis='x', pad=5.0)
    ax.tick_params(axis='y', pad=5.4)
    aw = ax.get_position().width * W
    ah = ax.get_position().height * H
    ax.text(0.5, -56 / ah, xlabel, transform=ax.transAxes, ha='center', va='center', fontsize=FS)
    ax.text(-52 / aw, 0.5, ylabel, transform=ax.transAxes, ha='center', va='center',
            rotation=90, fontsize=FS)


def rhat_legend(ax):
    aw = ax.get_position().width * W
    ah = ax.get_position().height * H
    bx = 1 - 188 / aw
    ax.add_patch(Rectangle((bx, 1 - 47 / ah), 188 / aw, 47 / ah, transform=ax.transAxes,
                           fill=False, edgecolor='black', lw=0.8, clip_on=False, zorder=5))
    for row, (fc, label) in enumerate([('black', 'multivariate'),
                                       (GRAY, 'individual (various chains)')]):
        cy = 1 - (17 + 16 * row) / ah
        cx = bx + 14.5 / aw
        ax.add_patch(Rectangle((cx - 3.5 / aw, cy - 3.5 / ah), 7 / aw, 7 / ah,
                               transform=ax.transAxes, facecolor=fc, edgecolor='black',
                               lw=0.6, clip_on=False, zorder=6))
        ax.text(bx + 31 / aw, cy, label, transform=ax.transAxes, ha='left', va='center',
                fontsize=FS, zorder=6)


def rhat_panel(box, iters, curves, mv_iter, mv, xlim, xticks):
    ax = add_axes_px(*box)
    for c in curves:
        ax.plot(iters, c, color=GRAY, lw=0.8)
    ax.plot(mv_iter, mv, color='black', lw=0.9)
    ax.axhline(1, color='black', lw=0.9)
    ax.set_xlim(*xlim)
    ax.set_ylim(0.84, 5.16)
    style_axes(ax, xticks, rhat_yticks, [str(t) for t in rhat_yticks],
               'iteration', 'Gelman\u2212Rubin\u2212Brooks diagnostic')
    rhat_legend(ax)
    return ax


def acf_panel(box, lags, curves, lw=0.8):
    ax = add_axes_px(*box)
    for c in curves:
        ax.plot(lags, c, color='black', lw=lw)
    ax.axhline(0, color='black', lw=0.9)
    ax.set_xlim(-3, 105)
    ax.set_ylim(-0.144, 1.044)
    style_axes(ax, acf_xticks, acf_yticks, ['%.1f' % t for t in acf_yticks], 'lag', 'ACF')
    return ax


rhat_panel((67, 360, 7, 254), iter_a, rhat_a, mv_a_iter, mv_a, (-896, 25996), rhat_ticks_a)
rhat_panel((469, 763, 7, 254), iter_b, rhat_b, mv_b_iter, mv_b, (-56, 4156), rhat_ticks_bc)
rhat_panel((872, 1165, 7, 254), iter_c, rhat_c, mv_c_iter, mv_c, (-56, 4156), rhat_ticks_bc)
acf_panel((67, 360, 459, 706), lag_d, acf_d)
acf_panel((469, 763, 446, 693), lag_e, acf_e, lw=1.0)
acf_panel((872, 1165, 446, 693), lag_f, acf_f)

# ---------------- captions (LaTeX-like) ----------------
CAP = 17
renderer = fig.canvas.get_renderer()
SPACE = 0.333 * CAP * 100 / 72


def caption(pieces, baseline, center=None, left=None, right=None):
    texts = []
    for s, fam in pieces:
        kw = {'fontfamily': fam} if fam else {}
        texts.append(fig.text(0, 1 - baseline / H, s, fontsize=CAP, va='baseline',
                              ha='left', **kw))
    widths = [t.get_window_extent(renderer).width for t in texts]
    if right is not None and len(texts) > 1:
        gap = (right - left - sum(widths)) / (len(texts) - 1)
        x = left
    else:
        gap = SPACE
        total = sum(widths) + gap * (len(texts) - 1)
        x = center - total / 2 if center is not None else left
    for t, w in zip(texts, widths):
        t.set_x(x / W)
        x += w + gap


RM, SS = 'cmr10', 'cmss10'
caption([('(a)', RM), (r'$\hat{R}$', None), ('with spNNGP', SS)], 376, center=194)
caption([('(b)', RM), (r'$\hat{R}$', None), ('with interweaving', SS)], 376, center=597)
caption([('(c)', RM), (r'$\hat{R}$', None), ('without interweaving', SS)], 376, center=1000)

caption([('(d)', RM), ('Autocorrelations', RM), ('with', RM), ('spNNGP', SS)], 812, center=194)
caption([('(e)', RM), ('Autocorrelations', RM), ('with', RM), ('interweav-', RM)], 812,
        left=400, right=795)
caption([('ing', RM)], 836, left=400)
caption([('(f)', RM), ('Autocorrelations', RM), ('without', RM), ('inter-', RM)], 812,
        left=803, right=1194)
caption([('weaving', RM)], 836, left=803)

fig.savefig('out.png', dpi=100)
